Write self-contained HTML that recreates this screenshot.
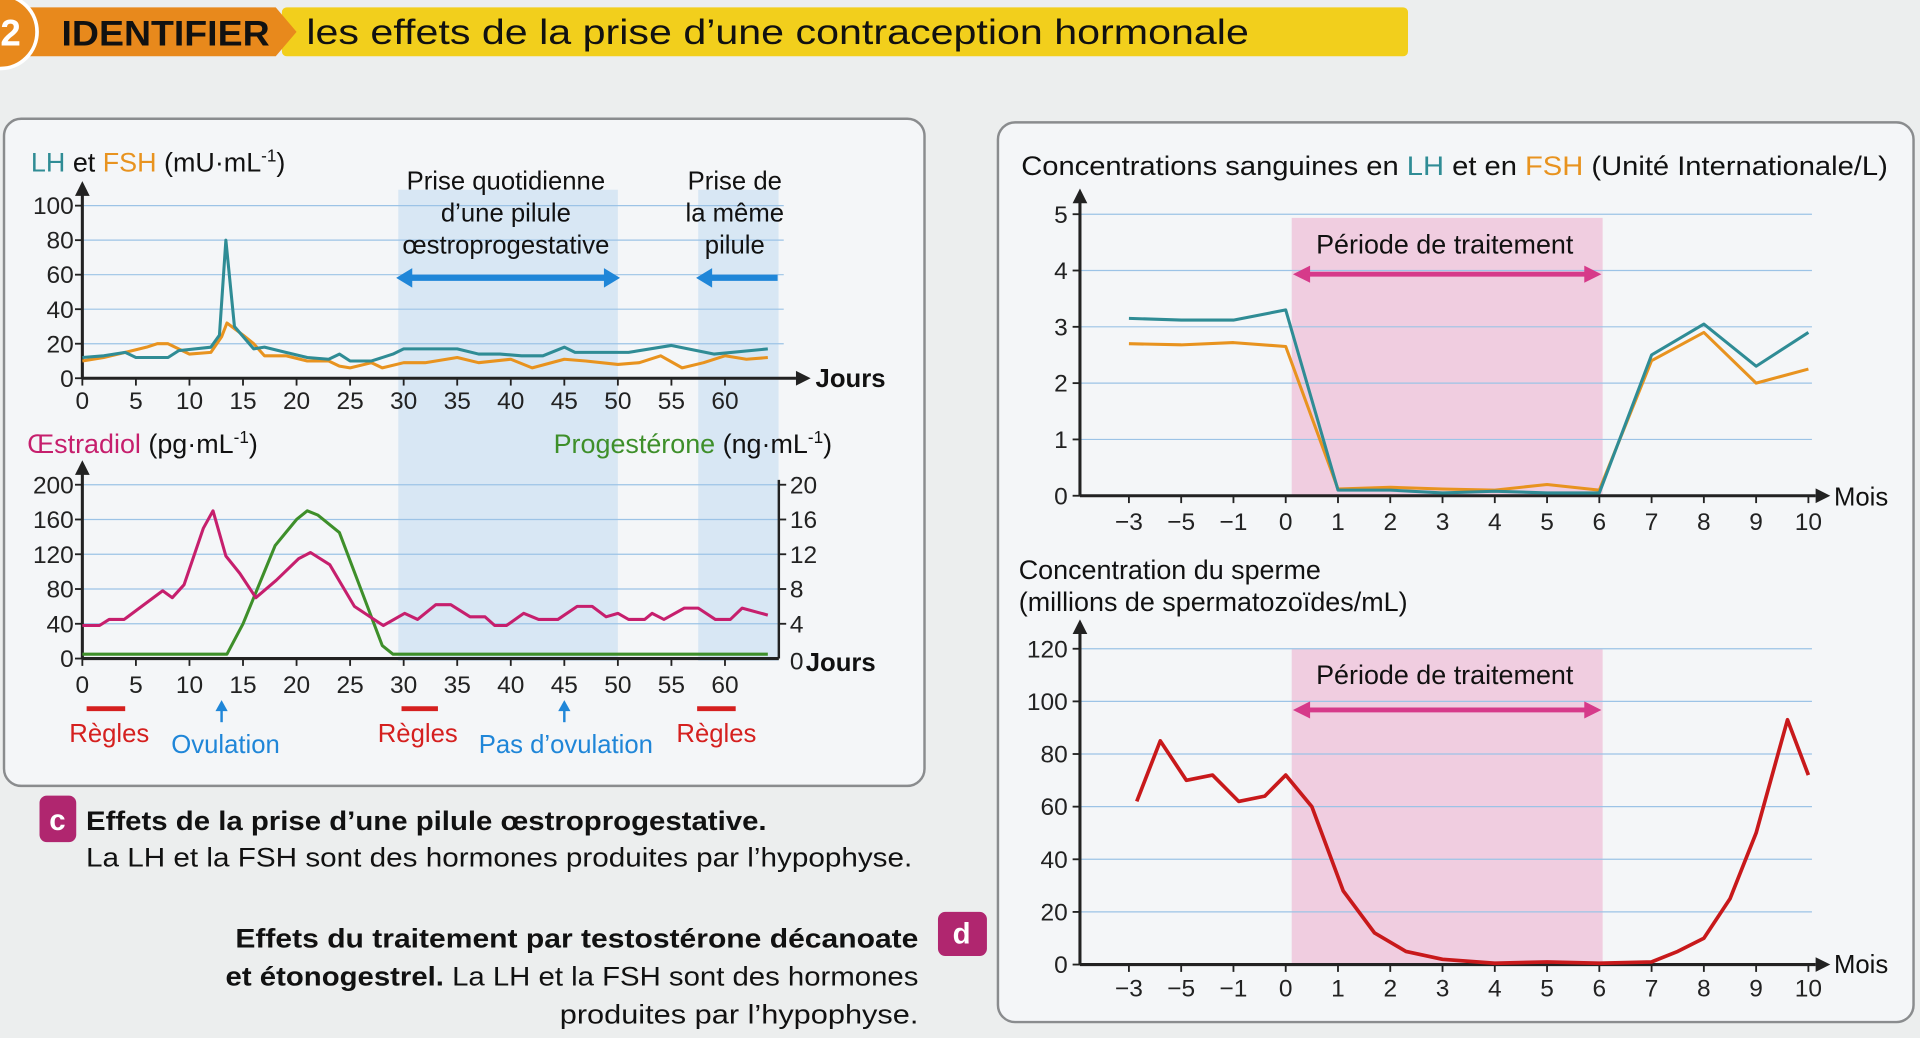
<!DOCTYPE html>
<html><head><meta charset="utf-8"><style>
html,body{margin:0;padding:0;background:#eceeee;}
svg{display:block;font-family:"Liberation Sans",sans-serif;}
</style></head><body>
<svg id="s" width="1920" height="1038" viewBox="0 0 1568 848" xmlns="http://www.w3.org/2000/svg">
<rect x="0" y="0" width="1568" height="848" fill="#eceeee"/>
<g>
<rect x="230" y="6" width="920" height="40" rx="4" fill="#f2cf1c"/>
<polygon points="0,6 225,6 242,26 225,46 0,46" fill="#e8891c"/>
<circle cx="0" cy="26" r="30" fill="#e8891c" stroke="#fff" stroke-width="3"/>
<text x="0" y="37" font-size="30" font-weight="bold" fill="#fff">2</text>
<text x="50" y="37" font-size="29" font-weight="bold" fill="#111" textLength="170" lengthAdjust="spacingAndGlyphs">IDENTIFIER</text>
<text x="250" y="36" font-size="29" fill="#111" textLength="770" lengthAdjust="spacingAndGlyphs">les effets de la prise d’une contraception hormonale</text>
</g>
<rect x="3" y="97" width="752" height="545" rx="14" fill="#f4f6f8" stroke="#8a8c8e" stroke-width="2"/>
<rect x="815" y="100" width="748" height="735" rx="14" fill="#f4f6f8" stroke="#8a8c8e" stroke-width="2"/>
<g id="g"></g>
<g>
<rect x="32" y="650" width="30" height="38" rx="6" fill="#b0266f"/>
<text x="40" y="678" font-size="24" font-weight="bold" fill="#fff">c</text>
<text x="70" y="678" font-size="22" font-weight="bold" fill="#111" textLength="556" lengthAdjust="spacingAndGlyphs">Effets de la prise d’une pilule œstroprogestative.</text>
<text x="70" y="708" font-size="22" fill="#111" textLength="675" lengthAdjust="spacingAndGlyphs">La LH et la FSH sont des hormones produites par l’hypophyse.</text>
</g>
<g>
<text x="750" y="774" font-size="22" font-weight="bold" fill="#111" text-anchor="end" textLength="558" lengthAdjust="spacingAndGlyphs">Effets du traitement par testostérone décanoate</text>
<text x="750" y="805" font-size="22" fill="#111" text-anchor="end" textLength="566" lengthAdjust="spacingAndGlyphs"><tspan font-weight="bold">et étonogestrel.</tspan> La LH et la FSH sont des hormones</text>
<text x="750" y="836" font-size="22" fill="#111" text-anchor="end" textLength="293" lengthAdjust="spacingAndGlyphs">produites par l’hypophyse.</text>
<rect x="766" y="745" width="40" height="36" rx="6" fill="#b0266f"/>
<text x="778" y="771" font-size="24" font-weight="bold" fill="#fff">d</text>
</g>
</svg>
<script>
// ---- Chart c1 data (days) ----
const lhDays=[0,2,4,5,8,9,12,12.8,13.4,14.2,16,17,19,21,23,24,25,27,29,30,35,37,39,41,43,45,46,51,55,59,64];
const lhVals=[12,13,15,12,12,16,18,25,80,30,17,18,15,12,11,14,10,10,14,17,17,14,14,13,13,18,15,15,19,14,17];
const fshDays=[0,2,4,6,7,8,10,12,13,13.5,15,16,17,19,21,23,24,25,27,28,30,32,35,37,40,42,45,47,50,52,54,56,58,60,62,64];
const fshVals=[10,12,15,18,20,20,14,15,24,32,25,20,13,13,10,10,7,6,9,6,9,9,12,9,11,6,11,10,8,9,13,6,9,13,11,12];
const lhTicks=[0,20,40,60,80,100];
const dayTicks=[0,5,10,15,20,25,30,35,40,45,50,55,60];
// ---- Chart c2 data ----
const e2Days=[0,1.6,2.5,3.9,7.5,8.4,9.5,11.3,12.2,13.4,14.7,16.2,18.1,20.2,21.3,23.1,25.4,28.1,30.1,31.3,33,34.4,36.2,37.6,38.5,39.6,41.2,42.6,44.4,46.2,47.6,48.9,50,51,52.5,53.2,54.3,56.2,57.5,59.1,60.5,61.6,64];
const e2Vals=[38,38,45,45,78,70,85,150,170,118,98,70,90,115,122,108,60,38,52,45,62,62,48,48,38,38,52,45,45,60,60,48,52,45,45,52,45,58,58,45,45,58,50];
const progDays=[0,13.5,15,17,18,19,20,21,22,24,26,28,29,64];
const progVals=[0.5,0.5,4,10,13,14.5,16,17,16.5,14.5,8,1.5,0.5,0.5];
const e2Ticks=[0,40,80,120,160,200];
const progTicks=[4,8,12,16,20];
// ---- Chart d data ----
const months=["−3","−5","−1","0","1","2","3","4","5","6","7","8","9","10"];
const lhMonth=[3.15,3.12,3.12,3.3,0.1,0.1,0.05,0.08,0.05,0.05,2.5,3.05,2.3,2.9];
const fshMonth=[2.7,2.68,2.72,2.65,0.12,0.15,0.12,0.1,0.2,0.1,2.4,2.9,2.0,2.25];
const hormTicks=[0,1,2,3,4,5];
const spermPos=[0.15,0.6,1.1,1.6,2.1,2.6,3,3.5,4.1,4.7,5.3,6,7,8,9,10,10.5,11,11.5,12,12.6,13];
const spermVals=[62,85,70,72,62,64,72,60,28,12,5,2,0.5,1,0.5,1,5,10,25,50,93,72];
const spermTicks=[0,20,40,60,80,100,120];

const NS="http://www.w3.org/2000/svg";
const G=document.getElementById('g');
function el(tag,attrs,parent,text){const e=document.createElementNS(NS,tag);for(const k in attrs)e.setAttribute(k,attrs[k]);if(text!==undefined)e.textContent=text;(parent||G).appendChild(e);return e;}
function line(xs,ys,fx,fy,color,w,name){
  const p=el('polyline',{points:xs.map((x,i)=>fx(x)+','+fy(ys[i])).join(' '),fill:'none',stroke:color,'stroke-width':w,'stroke-linejoin':'round'});
  
  
}
function txt(x,y,s,size,color,anchor,name,weight){
  const t=el('text',{x:x,y:y,'font-size':size,fill:color,'text-anchor':anchor||'start','font-weight':weight||'normal'},G,s);
  
  
  return t;
}
function axisArrow(x,y,dir){ if(dir==='up')el('polygon',{points:`${x-6},${y+12} ${x+6},${y+12} ${x},${y}`,fill:'#222'});else el('polygon',{points:`${x-12},${y-6} ${x-12},${y+6} ${x},${y}`,fill:'#222'});}

// ===== c scales =====
const cx=d=>67+d*8.75;
const c1y=v=>309-v*1.41;
const c2y=v=>538-v*0.71;
const c2py=v=>538-v*7.1;
el('rect',{x:cx(29.5),y:155,width:cx(50)-cx(29.5),height:385,fill:'#cfe2f3',opacity:0.75,});
el('rect',{x:cx(57.5),y:155,width:cx(65)-cx(57.5),height:385,fill:'#cfe2f3',opacity:0.75,});
lhTicks.forEach(t=>{ if(t>0){const l=el('line',{x1:67,x2:640,y1:c1y(t),y2:c1y(t),stroke:'#9cc3e6','stroke-width':1});}
  el('line',{x1:61,x2:67,y1:c1y(t),y2:c1y(t),stroke:'#222','stroke-width':1.5});
  txt(60,c1y(t)+7,String(t),20,'#222','end','y-tick-c1');});
dayTicks.forEach(d=>{el('line',{x1:cx(d),x2:cx(d),y1:309,y2:315,stroke:'#222','stroke-width':1.5});txt(cx(d),334,String(d),20,'#222','middle','x-tick-c1');});
el('line',{x1:67,y1:309,x2:67,y2:152,stroke:'#222','stroke-width':2.5});axisArrow(67,148,'up');
el('line',{x1:67,y1:309,x2:650,y2:309,stroke:'#222','stroke-width':2.5});axisArrow(662,309,'right');
txt(666,316,'Jours',21,'#111','start','x-axis-title-c1','bold');
line(fshDays,fshVals,cx,c1y,'#e8931f',2.5,'fsh-line-c1');
line(lhDays,lhVals,cx,c1y,'#2f8c95',2.5,'lh-line-c1');
const t1=txt(25,140,'',22,'#111','start','y-axis-title-c1');
t1.innerHTML='<tspan fill="#2f8c95">LH</tspan> et <tspan fill="#e8931f">FSH</tspan> (mU·mL<tspan font-size="14" dy="-8">-1</tspan><tspan dy="8">)</tspan>';
txt(413,155,'Prise quotidienne',21,'#111','middle','annot-daily-pill');
txt(413,181,'d’une pilule',21,'#111','middle','annot-daily-pill-2');
txt(413,207,'œstroprogestative',21,'#111','middle','annot-daily-pill-3');
txt(600,155,'Prise de',21,'#111','middle','annot-same-pill');
txt(600,181,'la même',21,'#111','middle','annot-same-pill-2');
txt(600,207,'pilule',21,'#111','middle','annot-same-pill-3');
el('line',{x1:cx(30.5),x2:cx(49),y1:227,y2:227,stroke:'#1f86d8','stroke-width':5,});
el('polygon',{points:`${cx(29.3)},227 ${cx(30.8)},219 ${cx(30.8)},235`,fill:'#1f86d8'});
el('polygon',{points:`${cx(50.2)},227 ${cx(48.7)},219 ${cx(48.7)},235`,fill:'#1f86d8'});
el('line',{x1:cx(58.5),x2:635,y1:227,y2:227,stroke:'#1f86d8','stroke-width':5,});
el('polygon',{points:`${cx(57.3)},227 ${cx(58.8)},219 ${cx(58.8)},235`,fill:'#1f86d8'});

// c2
e2Ticks.forEach(t=>{ if(t>0)el('line',{x1:67,x2:636,y1:c2y(t),y2:c2y(t),stroke:'#9cc3e6','stroke-width':1,});
  el('line',{x1:61,x2:67,y1:c2y(t),y2:c2y(t),stroke:'#222','stroke-width':1.5});
  txt(60,c2y(t)+7,String(t),20,'#222','end','y-tick-c2');});
progTicks.forEach(t=>{el('line',{x1:636,x2:642,y1:c2py(t),y2:c2py(t),stroke:'#222','stroke-width':1.5});txt(645,c2py(t)+7,String(t),20,'#222','start','y2-tick-c2');});
txt(645,547,'0',20,'#222','start','y2-tick-c2');
dayTicks.forEach(d=>{el('line',{x1:cx(d),x2:cx(d),y1:538,y2:544,stroke:'#222','stroke-width':1.5});txt(cx(d),566,String(d),20,'#222','middle','x-tick-c2');});
el('line',{x1:67,y1:538,x2:67,y2:382,stroke:'#222','stroke-width':2.5});axisArrow(67,376,'up');
el('line',{x1:636,y1:538,x2:636,y2:392,stroke:'#222','stroke-width':2});
el('line',{x1:67,y1:538,x2:636,y2:538,stroke:'#222','stroke-width':2.5});
txt(658,548,'Jours',21,'#111','start','x-axis-title-c2','bold');
line(progDays,progVals,cx,c2py,'#3e8f2a',2.5,'progesterone-line');
line(e2Days,e2Vals,cx,c2y,'#c61f6d',2.5,'estradiol-line');
const t2=txt(22,370,'',22,'#c61f6d','start','y-axis-title-c2');
t2.innerHTML='Œstradiol <tspan fill="#111">(pg·mL<tspan font-size="14" dy="-8">-1</tspan><tspan dy="8">)</tspan></tspan>';
const t3=txt(452,370,'',22,'#3e8f2a','start','y2-axis-title-c2');
t3.innerHTML='Progestérone <tspan fill="#111">(ng·mL<tspan font-size="14" dy="-8">-1</tspan><tspan dy="8">)</tspan></tspan>';
[[0.4,4],[29.8,33.2],[57.4,61]].forEach(r=>el('line',{x1:cx(r[0]),x2:cx(r[1]),y1:579,y2:579,stroke:'#d5201f','stroke-width':4,}));
txt(89,606,'Règles',21,'#d5201f','middle','label-regles');
txt(341,606,'Règles',21,'#d5201f','middle','label-regles-2');
txt(585,606,'Règles',21,'#d5201f','middle','label-regles-3');
[[13,'Ovulation',184],[45,'Pas d’ovulation',462]].forEach(a=>{const x=cx(a[0]);el('line',{x1:x,x2:x,y1:576,y2:590,stroke:'#1f86d8','stroke-width':2});el('polygon',{points:`${x-5},581 ${x+5},581 ${x},572`,fill:'#1f86d8'});txt(a[2],615,a[1],21,'#1f86d8','middle','label-ovulation');});

// ===== d scales =====
const mx=i=>922+i*42.7;
const d1y=v=>405-v*46;
const d2y=v=>788-v*2.15;
el('rect',{x:1055,y:178,width:254,height:227,fill:'#eec6dc',opacity:0.85,});
el('rect',{x:1055,y:530,width:254,height:258,fill:'#eec6dc',opacity:0.85,});
hormTicks.forEach(t=>{ if(t>0)el('line',{x1:882,x2:1480,y1:d1y(t),y2:d1y(t),stroke:'#9cc3e6','stroke-width':1,});
  el('line',{x1:876,x2:882,y1:d1y(t),y2:d1y(t),stroke:'#222','stroke-width':1.5});
  txt(872,d1y(t)+7,String(t),20,'#222','end','y-tick-d1');});
spermTicks.forEach(t=>{ if(t>0)el('line',{x1:882,x2:1480,y1:d2y(t),y2:d2y(t),stroke:'#9cc3e6','stroke-width':1,});
  el('line',{x1:876,x2:882,y1:d2y(t),y2:d2y(t),stroke:'#222','stroke-width':1.5});
  txt(872,d2y(t)+7,String(t),20,'#222','end','y-tick-d2');});
months.forEach((m,i)=>{el('line',{x1:mx(i),x2:mx(i),y1:405,y2:411,stroke:'#222','stroke-width':1.5});txt(mx(i),433,m,20,'#222','middle','x-tick-d1');
  el('line',{x1:mx(i),x2:mx(i),y1:788,y2:794,stroke:'#222','stroke-width':1.5});txt(mx(i),814,m,20,'#222','middle','x-tick-d2');});
[[405,160],[788,512]].forEach(a=>{el('line',{x1:882,y1:a[0],x2:882,y2:a[1],stroke:'#222','stroke-width':2.5});axisArrow(882,a[1]-6,'up');
  el('line',{x1:882,y1:a[0],x2:1483,y2:a[0],stroke:'#222','stroke-width':2.5});axisArrow(1495,a[0],'right');});
txt(1498,413,'Mois',21,'#111','start','x-axis-title-d1');
txt(1498,795,'Mois',21,'#111','start','x-axis-title-d2');
line(months.map((m,i)=>i),fshMonth,mx,d1y,'#e8931f',2.5,'fsh-line-d');
line(months.map((m,i)=>i),lhMonth,mx,d1y,'#2f8c95',2.5,'lh-line-d');
line(spermPos,spermVals,mx,d2y,'#c8191b',3,'sperm-line');
const t4=txt(834,143,'',22,'#111','start','title-d1');
t4.setAttribute('textLength','708');
t4.setAttribute('lengthAdjust','spacingAndGlyphs');
t4.innerHTML='Concentrations sanguines en <tspan fill="#2f8c95">LH</tspan> et en <tspan fill="#e8931f">FSH</tspan> (Unité Internationale/L)';
txt(832,473,'Concentration du sperme',22,'#111','start','title-d2');
txt(832,499,'(millions de spermatozoïdes/mL)',22,'#111','start','title-d2-units');
[[207,224],[559,580]].forEach(a=>{txt(1180,a[0],'Période de traitement',22,'#111','middle','treatment-label');
  el('line',{x1:1068,x2:1296,y1:a[1],y2:a[1],stroke:'#d63a8a','stroke-width':4,});
  el('polygon',{points:`1056,${a[1]} 1070,${a[1]-7} 1070,${a[1]+7}`,fill:'#d63a8a'});
  el('polygon',{points:`1308,${a[1]} 1294,${a[1]-7} 1294,${a[1]+7}`,fill:'#d63a8a'});});
</script>
</body></html>
